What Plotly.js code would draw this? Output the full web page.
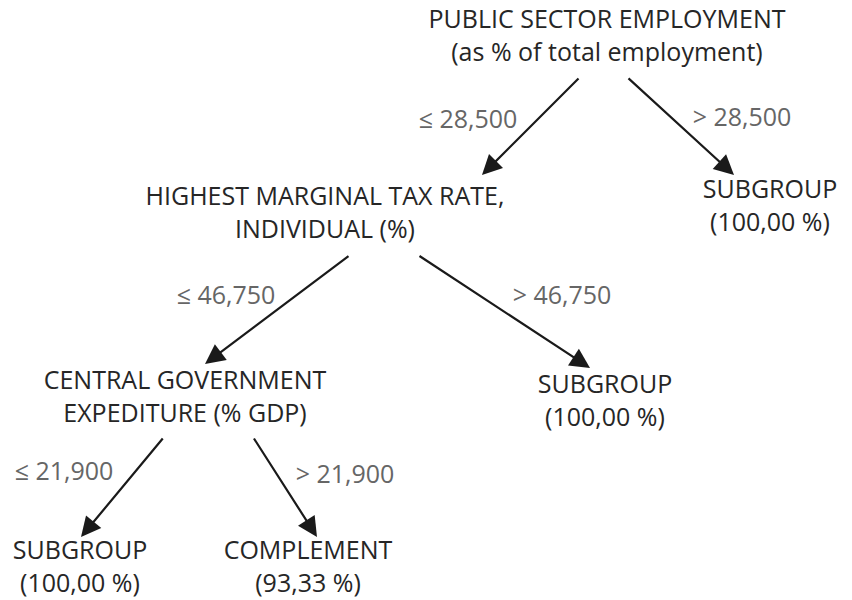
<!DOCTYPE html>
<html>
<head>
<meta charset="utf-8">
<script src="https://cdn.plot.ly/plotly-3.0.1.min.js"></script>
<style>html,body{margin:0;padding:0;background:#fff;}#chart{width:852px;height:600px;}</style>
</head>
<body>
<div id="chart"></div>
<script>
// ---- data ----
const nodeLine1 = ["PUBLIC SECTOR EMPLOYMENT", "HIGHEST MARGINAL TAX RATE,", "SUBGROUP", "CENTRAL GOVERNMENT", "SUBGROUP", "SUBGROUP", "COMPLEMENT"];
const nodeLine2 = ["(as % of total employment)", "INDIVIDUAL (%)", "(100,00 %)", "EXPEDITURE (% GDP)", "(100,00 %)", "(100,00 %)", "(93,33 %)"];
const edgeFrom = [0, 0, 1, 1, 3, 3];
const edgeTo = [1, 2, 3, 4, 5, 6];
const edgeLabels = ["≤ 28,500", "> 28,500", "≤ 46,750", "> 46,750", "≤ 21,900", "> 21,900"];

// ---- layout geometry (pixel space, centre of each two-line node) ----
const nodePos = [[607, 38], [325, 215], [770, 208], [185, 399], [605, 403], [80, 569], [308, 569]];
const arrowTail = [[580, 77], [627, 77], [350, 255], [418, 255], [164, 437], [253, 437]];
const arrowHead = [[482, 175], [734, 175], [205, 364], [590, 368], [81, 537], [317, 537]];
const labelPos = [[468, 122], [742, 120], [226, 298], [562, 298], [64, 474], [345, 477]];

const FONT = "Open Sans, Noto Sans, sans-serif";
const traces = [];
traces.push({type: 'scatter', mode: 'text',
  x: nodePos.map(p => p[0]), y: nodePos.map(p => p[1]),
  text: nodeLine1.map((s, i) => s + '<br>' + nodeLine2[i]),
  textposition: 'middle center',
  textfont: {family: FONT, size: 25, color: '#262626'}, hoverinfo: 'skip', showlegend: false});
traces.push({type: 'scatter', mode: 'text', x: labelPos.map(p => p[0]), y: labelPos.map(p => p[1]), text: edgeLabels,
  textposition: 'middle center', textfont: {family: FONT, size: 25, color: '#666666'}, hoverinfo: 'skip', showlegend: false});

const annotations = edgeFrom.map((f, k) => ({
  x: arrowHead[k][0], y: arrowHead[k][1], ax: arrowTail[k][0], ay: arrowTail[k][1],
  xref: 'x', yref: 'y', axref: 'x', ayref: 'y', text: '', showarrow: true,
  arrowhead: 2, arrowsize: 1.8, arrowwidth: 2.2, arrowcolor: '#1a1a1a', standoff: 0
}));

const layout = {
  width: 852, height: 600, margin: {l: 0, r: 0, t: 0, b: 0},
  paper_bgcolor: '#ffffff', plot_bgcolor: '#ffffff',
  xaxis: {range: [0, 852], visible: false, fixedrange: true},
  yaxis: {range: [600, 0], visible: false, fixedrange: true},
  annotations: annotations, showlegend: false
};
Plotly.newPlot('chart', traces, layout, {displayModeBar: false, staticPlot: true});
</script>
</body>
</html>
